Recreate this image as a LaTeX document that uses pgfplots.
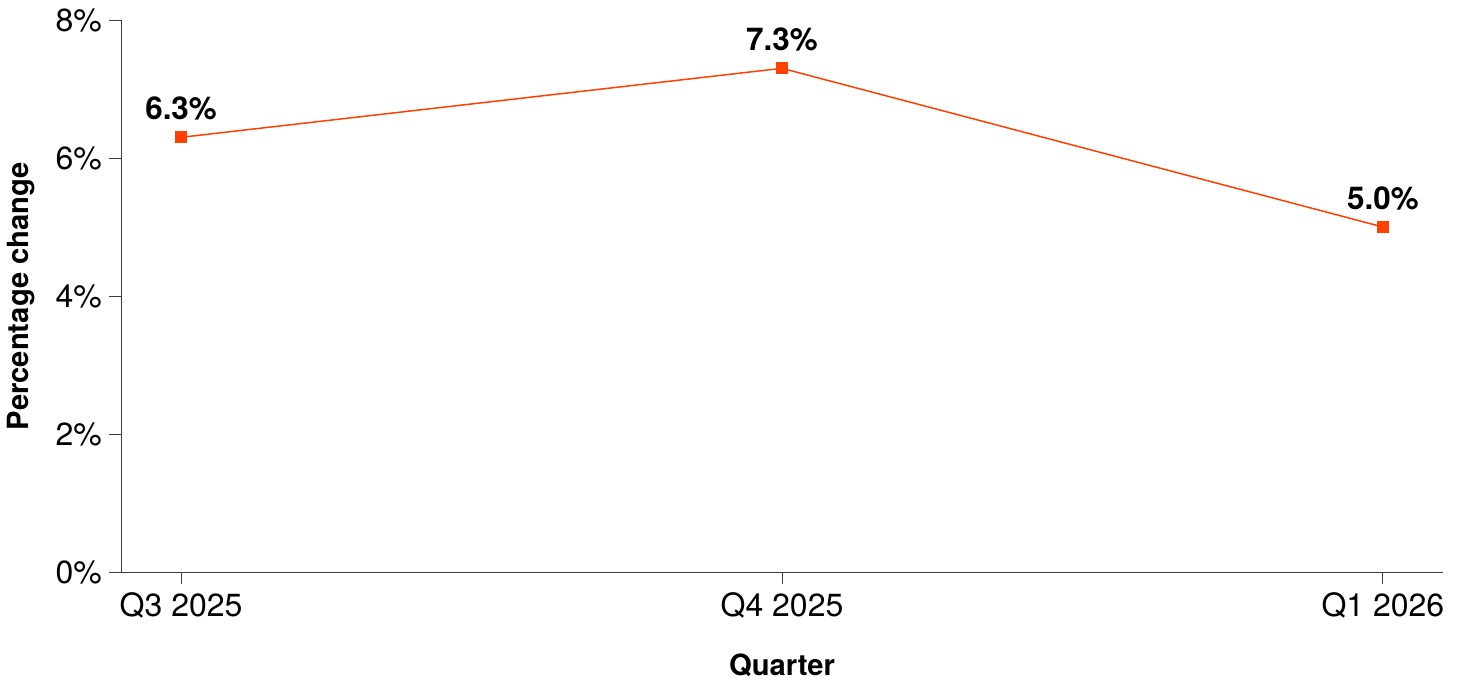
\documentclass[border=0pt]{standalone}
\usepackage{pgfplots}
\pgfplotsset{compat=1.18}
\usepackage{fontspec}
\setmainfont{TeX Gyre Heros}
\definecolor{lineorange}{RGB}{255,64,0}
\definecolor{axisgray}{RGB}{60,60,60}
\begin{document}
\begin{tikzpicture}
\path[use as bounding box] (-60.5pt,-54.5pt) rectangle (672pt,286pt);
\begin{axis}[
  at={(0,0)}, anchor=south west,
  scale only axis,
  width=661pt, height=276pt,
  xmin=-0.1, xmax=2.1,
  ymin=0, ymax=8,
  axis x line*=bottom, axis y line*=left,
  axis line style={axisgray, line width=0.5pt},
  tick style={axisgray, line width=0.5pt},
  tick align=outside,
  major tick length=6pt,
  xtick={0,1,2},
  xticklabels={Q3 2025,Q4 2025,Q1 2026},
  ytick={0,2,4,6,8},
  yticklabels={0\%,2\%,4\%,6\%,8\%},
  ticklabel style={font=\fontsize{16}{18}\selectfont},
  xticklabel style={yshift=-1pt},
  xlabel={\textbf{Quarter}},
  ylabel={\textbf{Percentage change}},
  xlabel style={font=\fontsize{14.6}{16}\selectfont, at={(axis description cs:0.5,-0.1685)}, anchor=center},
  ylabel style={font=\fontsize{14.6}{16}\selectfont, at={(axis description cs:-0.0757,0.5)}, anchor=center},
  /pgf/number format/assume math mode=true,
  clip=false,
]
\addplot[color=lineorange, line width=0.75pt, mark=square*, mark size=2.6pt,
  mark options={solid, fill=lineorange, draw=lineorange},
  nodes near coords={\pgfmathprintnumber[fixed,fixed zerofill,precision=1,assume math mode=true]{\pgfplotspointmeta}\%},
  nodes near coords style={font=\bfseries\fontsize{15.7}{18}\selectfont, text=black, anchor=south, inner sep=0pt, yshift=8pt},
  point meta=y]
coordinates {(0,6.3) (1,7.3) (2,5.0)};
\end{axis}
\end{tikzpicture}
\end{document}
